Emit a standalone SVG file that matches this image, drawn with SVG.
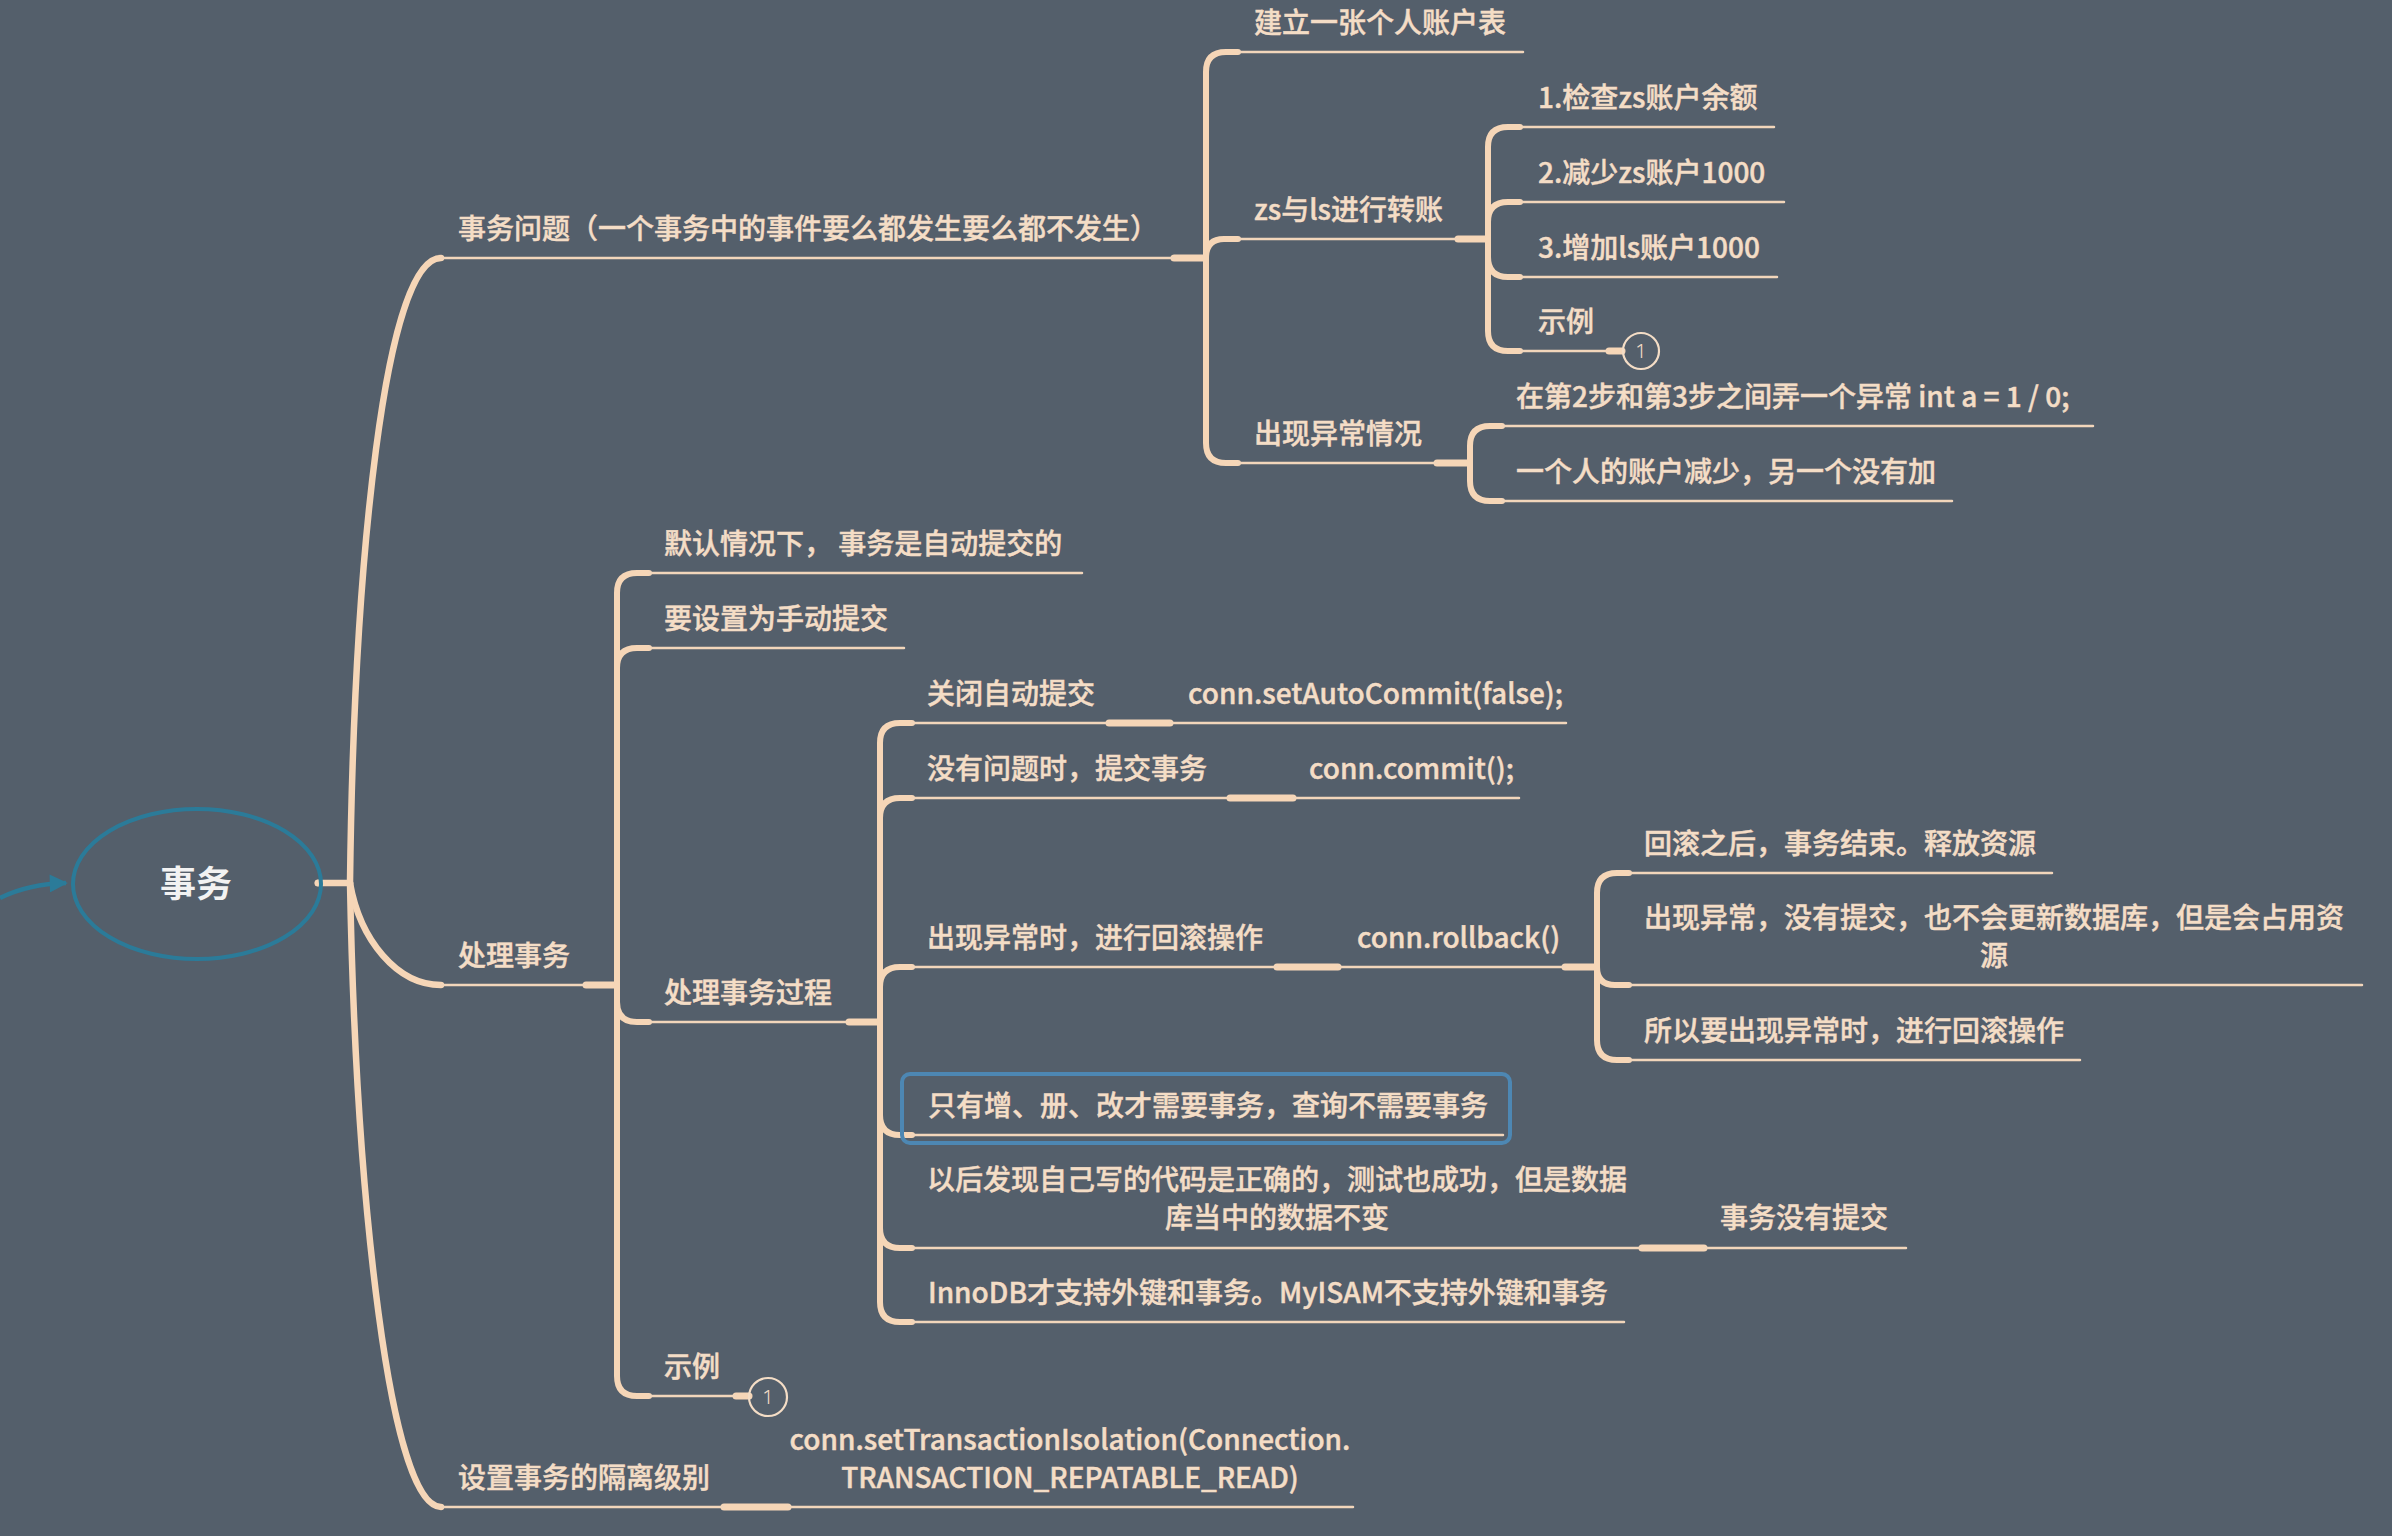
<svg xmlns="http://www.w3.org/2000/svg" width="2392" height="1536" viewBox="0 0 2392 1536">
<defs>
<style>
.t{font-family:"Noto Sans CJK SC","Noto Sans",sans-serif;font-size:28px;fill:#f4ddc6;font-weight:500;stroke:#f4ddc6;stroke-width:0.45px}
.m{text-anchor:middle}
.ul{stroke:#f2d6bb;stroke-width:2.5;fill:none;stroke-linecap:round}
.cn{stroke:#f6d6b7;stroke-width:6;fill:none;stroke-linecap:round;stroke-linejoin:round}
.tr{stroke:#f6d6b7;stroke-width:6.5;fill:none;stroke-linecap:round}
.st{stroke:#f6d6b7;stroke-width:7;fill:none;stroke-linecap:round}
.cir{stroke:#f4ddc6;stroke-width:2.2;fill:none}
.num{font-family:"Noto Sans","Noto Sans CJK SC",sans-serif;font-size:20px;fill:#f4ddc6;font-weight:300;text-anchor:middle}
</style>
<marker id="ah" viewBox="0 0 10 10" refX="9" refY="5" markerWidth="5" markerHeight="4" orient="auto" markerUnits="strokeWidth">
<path d="M0 0 L10 5 L0 10 z" fill="#2b7b99"/>
</marker>
</defs>
<rect width="2392" height="1536" fill="#545f6b"/>

<g id="connectors">
<path d="M0 898 Q 28 884 66 883" stroke="#2b7b99" stroke-width="4.5" fill="none" marker-end="url(#ah)"/>
<circle cx="318" cy="883" r="3.5" fill="#f6d6b7"/>
<path class="tr" d="M318 883 L350 883"/>
<path class="tr" d="M350 883 C 354 560, 385 258, 441 258"/>
<path class="tr" d="M350 883 C 360 940, 397 985, 441 985"/>
<path class="tr" d="M350 883 C 356 1200, 390 1507, 441 1507"/>

<!-- A -->
<path class="st" d="M1174 258 L1204 258"/>
<path class="cn" d="M1206 258 L1206 72 Q1206 52 1226 52 L1238 52"/>
<path class="cn" d="M1206 258 Q1206 239 1224 239 L1238 239"/>
<path class="cn" d="M1206 258 L1206 443 Q1206 463 1226 463 L1238 463"/>
<!-- A2 -->
<path class="st" d="M1458 239 L1486 239"/>
<path class="cn" d="M1488 239 L1488 147 Q1488 127 1508 127 L1520 127"/>
<path class="cn" d="M1488 239 L1488 222 Q1488 202 1508 202 L1520 202"/>
<path class="cn" d="M1488 239 L1488 257 Q1488 277 1508 277 L1520 277"/>
<path class="cn" d="M1488 239 L1488 331 Q1488 351 1508 351 L1520 351"/>
<path class="st" d="M1609 351 L1622 351"/>
<!-- A3 -->
<path class="st" d="M1437 463 L1468 463"/>
<path class="cn" d="M1470 463 L1470 446 Q1470 426 1490 426 L1502 426"/>
<path class="cn" d="M1470 463 L1470 481 Q1470 501 1490 501 L1502 501"/>
<!-- B -->
<path class="st" d="M586 985 L615 985"/>
<path class="cn" d="M617 985 L617 593 Q617 573 637 573 L649 573"/>
<path class="cn" d="M617 985 L617 668 Q617 648 637 648 L649 648"/>
<path class="cn" d="M617 985 L617 1002 Q617 1022 637 1022 L649 1022"/>
<path class="cn" d="M617 985 L617 1376 Q617 1396 637 1396 L649 1396"/>
<path class="st" d="M736 1396 L749 1396"/>
<!-- B3 -->
<path class="st" d="M849 1022 L878 1022"/>
<path class="cn" d="M880 1022 L880 743 Q880 723 900 723 L912 723"/>
<path class="cn" d="M880 1022 L880 818 Q880 798 900 798 L912 798"/>
<path class="cn" d="M880 1022 L880 987 Q880 967 900 967 L912 967"/>
<path class="cn" d="M880 1022 L880 1115 Q880 1135 900 1135 L912 1135"/>
<path class="cn" d="M880 1022 L880 1228 Q880 1248 900 1248 L912 1248"/>
<path class="cn" d="M880 1022 L880 1302 Q880 1322 900 1322 L912 1322"/>
<path class="st" d="M1109 723 L1170 723"/>
<path class="st" d="M1230 798 L1293 798"/>
<path class="st" d="M1277 967 L1338 967"/>
<path class="st" d="M1642 1248 L1704 1248"/>
<!-- rollback -->
<path class="st" d="M1565 967 L1595 967"/>
<path class="cn" d="M1597 967 L1597 893 Q1597 873 1617 873 L1629 873"/>
<path class="cn" d="M1597 967 Q1597 985 1615 985 L1629 985"/>
<path class="cn" d="M1597 967 L1597 1040 Q1597 1060 1617 1060 L1629 1060"/>
<!-- C -->
<path class="st" d="M724 1507 L788 1507"/>
</g>

<g id="root">
<ellipse cx="197" cy="884" rx="124" ry="75" fill="none" stroke="#2b7b99" stroke-width="4"/>
<text x="196" y="897" style="font-family:'Noto Sans CJK SC','Noto Sans',sans-serif;font-size:36px;font-weight:700;fill:#f2f2f2;text-anchor:middle">事务</text>
</g>

<g id="n-shiwuwenti">
<path class="ul" d="M441 258 L1174 258"/>
<text class="t" x="458" y="239">事务问题（一个事务中的事件要么都发生要么都不发生）</text>
</g>
<g id="n-jianli">
<path class="ul" d="M1238 52 L1523 52"/>
<text class="t" x="1254" y="33">建立一张个人账户表</text>
</g>
<g id="n-zhuanzhang">
<path class="ul" d="M1238 239 L1458 239"/>
<text class="t" x="1254" y="220">zs与ls进行转账</text>
</g>
<g id="n-step1">
<path class="ul" d="M1520 127 L1774 127"/>
<text class="t" x="1538" y="108">1.检查zs账户余额</text>
</g>
<g id="n-step2">
<path class="ul" d="M1520 202 L1784 202"/>
<text class="t" x="1538" y="183">2.减少zs账户1000</text>
</g>
<g id="n-step3">
<path class="ul" d="M1520 277 L1777 277"/>
<text class="t" x="1538" y="258">3.增加ls账户1000</text>
</g>
<g id="n-shili1">
<path class="ul" d="M1520 351 L1609 351"/>
<text class="t" x="1538" y="332">示例</text>
<circle class="cir" cx="1641" cy="351" r="18"/>
<text class="num" x="1641" y="358">1</text>
</g>
<g id="n-yichang">
<path class="ul" d="M1238 463 L1437 463"/>
<text class="t" x="1254" y="444">出现异常情况</text>
</g>
<g id="n-yichang1">
<path class="ul" d="M1502 426 L2093 426"/>
<text class="t" x="1516" y="407">在第2步和第3步之间弄一个异常 int a = 1 / 0;</text>
</g>
<g id="n-yichang2">
<path class="ul" d="M1502 501 L1952 501"/>
<text class="t" x="1516" y="482">一个人的账户减少，另一个没有加</text>
</g>

<g id="n-chuli">
<path class="ul" d="M441 985 L586 985"/>
<text class="t" x="458" y="966">处理事务</text>
</g>
<g id="n-moren">
<path class="ul" d="M649 573 L1082 573"/>
<text class="t" x="664" y="554">默认情况下， 事务是自动提交的</text>
</g>
<g id="n-shoudong">
<path class="ul" d="M649 648 L904 648"/>
<text class="t" x="664" y="629">要设置为手动提交</text>
</g>
<g id="n-guocheng">
<path class="ul" d="M649 1022 L849 1022"/>
<text class="t" x="664" y="1003">处理事务过程</text>
</g>
<g id="n-shili2">
<path class="ul" d="M649 1396 L736 1396"/>
<text class="t" x="664" y="1377">示例</text>
<circle class="cir" cx="768" cy="1397" r="19"/>
<text class="num" x="768" y="1404">1</text>
</g>
<g id="n-guanbi">
<path class="ul" d="M912 723 L1109 723"/>
<text class="t" x="927" y="704">关闭自动提交</text>
</g>
<g id="n-autocommit">
<path class="ul" d="M1170 723 L1566 723"/>
<text class="t" x="1188" y="704">conn.setAutoCommit(false);</text>
</g>
<g id="n-tijiao">
<path class="ul" d="M912 798 L1230 798"/>
<text class="t" x="927" y="779">没有问题时，提交事务</text>
</g>
<g id="n-commit">
<path class="ul" d="M1293 798 L1519 798"/>
<text class="t" x="1309" y="779">conn.commit();</text>
</g>
<g id="n-huigun">
<path class="ul" d="M912 967 L1277 967"/>
<text class="t" x="927" y="948">出现异常时，进行回滚操作</text>
</g>
<g id="n-rollback">
<path class="ul" d="M1338 967 L1565 967"/>
<text class="t" x="1357" y="948">conn.rollback()</text>
</g>
<g id="n-r1">
<path class="ul" d="M1629 873 L2052 873"/>
<text class="t" x="1644" y="854">回滚之后，事务结束。释放资源</text>
</g>
<g id="n-r2">
<path class="ul" d="M1629 985 L2362 985"/>
<text class="t m" x="1994" y="928">出现异常，没有提交，也不会更新数据库，但是会占用资</text>
<text class="t m" x="1994" y="966">源</text>
</g>
<g id="n-r3">
<path class="ul" d="M1629 1060 L2080 1060"/>
<text class="t" x="1644" y="1041">所以要出现异常时，进行回滚操作</text>
</g>
<g id="n-zengshan">
<rect x="902" y="1074" width="608" height="69" rx="8" fill="none" stroke="#4d87b3" stroke-width="4"/>
<path class="ul" d="M912 1135 L1503 1135"/>
<text class="t" x="928" y="1116">只有增、册、改才需要事务，查询不需要事务</text>
</g>
<g id="n-yihou">
<path class="ul" d="M912 1248 L1642 1248"/>
<text class="t m" x="1277" y="1190">以后发现自己写的代码是正确的，测试也成功，但是数据</text>
<text class="t m" x="1277" y="1228">库当中的数据不变</text>
</g>
<g id="n-meiyoutijiao">
<path class="ul" d="M1704 1248 L1906 1248"/>
<text class="t" x="1720" y="1228">事务没有提交</text>
</g>
<g id="n-innodb">
<path class="ul" d="M912 1322 L1624 1322"/>
<text class="t" x="928" y="1303">InnoDB才支持外键和事务。MyISAM不支持外键和事务</text>
</g>

<g id="n-geli">
<path class="ul" d="M441 1507 L724 1507"/>
<text class="t" x="458" y="1488">设置事务的隔离级别</text>
</g>
<g id="n-isolation">
<path class="ul" d="M788 1507 L1353 1507"/>
<text class="t m" x="1070" y="1450">conn.setTransactionIsolation(Connection.</text>
<text class="t m" x="1070" y="1488">TRANSACTION_REPATABLE_READ)</text>
</g>
</svg>
